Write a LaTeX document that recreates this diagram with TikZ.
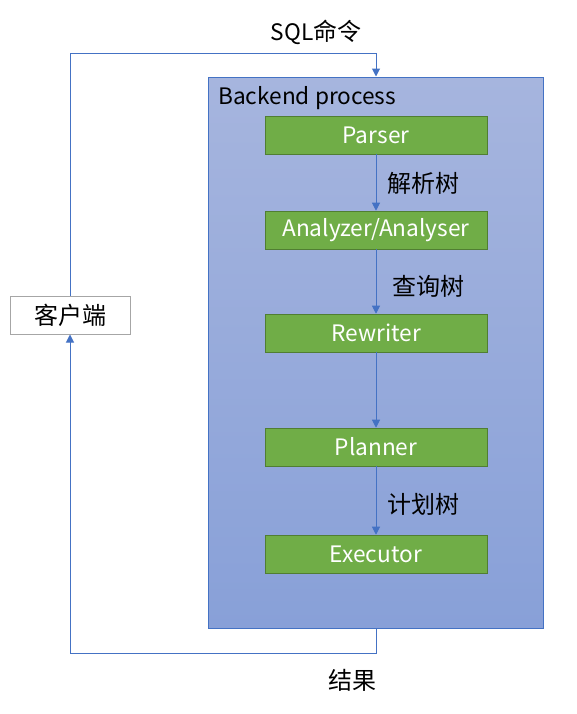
\documentclass[tikz,border=0pt]{standalone}
\usepackage{fontspec}
\setmainfont{Noto Sans CJK SC}
\usetikzlibrary{arrows.meta,positioning}
\definecolor{lineblue}{RGB}{68,114,196}
\definecolor{boxgreen}{RGB}{112,173,71}
\definecolor{edgegreen}{RGB}{80,126,50}
\definecolor{bgtop}{RGB}{166,181,222}
\definecolor{bgbot}{RGB}{136,160,216}
\newcommand{\latinsize}{\fontsize{17}{20}\selectfont}
\newcommand{\zhsize}{\fontsize{18}{21}\selectfont}
\tikzset{
	stage/.style={draw=edgegreen, fill=boxgreen, text=white, minimum width=222*0.75pt, minimum height=38*0.75pt, inner sep=0pt, font=\latinsize},
	flow/.style={draw=lineblue, line width=0.75pt, -{Triangle[length=6pt,width=6pt]}},
	note/.style={font=\latinsize, inner sep=0pt},
	zhnote/.style={font=\zhsize, inner sep=0pt}
}
\begin{document}
\begin{tikzpicture}[x=0.75pt, y=-0.75pt]
			%%%%% START %%%%%
			
			\useasboundingbox (0, 0) rectangle (577, 714);
			
			\node[draw=lineblue, line width=0.75pt, top color=bgtop, bottom color=bgbot, minimum width=335*0.75pt, minimum height=551*0.75pt, inner sep=0pt] (backend) at (375.5, 352.5) {};
			\node[note, anchor=west] (title) at (218, 98) {Backend process};
			
			\node[stage] (parser) at (376, 135) {Parser};
			\node[stage] (analyzer) at (376, 230) {Analyzer/Analyser};
			\node[stage] (rewriter) at (376, 333) {Rewriter};
			\node[stage] (planner) at (376, 447) {Planner};
			\node[stage] (executor) at (376, 554) {Executor};
			
			\node[draw=black!35, fill=white, line width=0.75pt, minimum width=120*0.75pt, minimum height=38*0.75pt, inner sep=0pt, font=\zhsize] (client) at (70, 315) {客户端};
			
			\draw[flow] (parser) -- node[zhnote, right=11*0.75pt, yshift=-1pt] {解析树} (analyzer);
			\draw[flow] (analyzer) -- node[zhnote, right=16*0.75pt, yshift=-4pt] {查询树} (rewriter);
			\draw[flow] (rewriter) -- (planner);
			\draw[flow] (planner) -- node[zhnote, right=11*0.75pt, yshift=-3pt] {计划树} (executor);
			
			\coordinate (sqltop) at (376, 53);
			\coordinate (resbot) at (376, 653);
			\draw[flow] (client.north) |- (sqltop) -- (backend.north -| sqltop);
			\draw[flow] (backend.south -| resbot) -- (resbot) -| (client.south);
			
			\node[note] (sql) at (316, 32) {SQL\zhsize 命令};
			\node[zhnote] (result) at (352, 680) {结果};
			
			%%%%% END %%%%%
\end{tikzpicture}
\end{document}
